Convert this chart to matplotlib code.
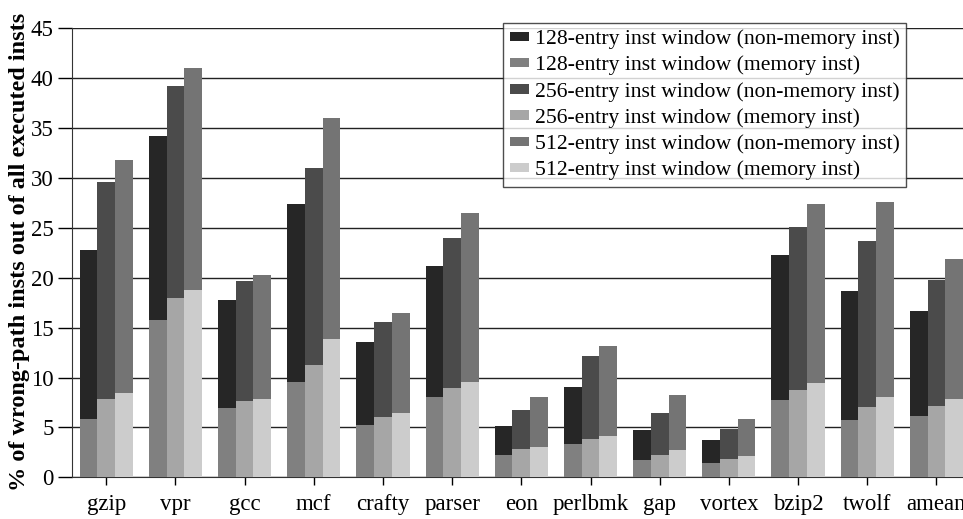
import matplotlib
matplotlib.use("Agg")
import matplotlib.pyplot as plt
import numpy as np

categories = ["gzip", "vpr", "gcc", "mcf", "crafty", "parser", "eon", "perlbmk",
              "gap", "vortex", "bzip2", "twolf", "amean"]

# total heights (non-memory + memory) and memory part, per window size
total_128 = [22.8, 34.2, 17.8, 27.4, 13.6, 21.2, 5.1, 9.1, 4.7, 3.7, 22.25, 18.7, 16.7]
mem_128   = [5.85, 15.8, 6.95, 9.6, 5.2, 8.0, 2.25, 3.3, 1.7, 1.4, 7.75, 5.75, 6.1]
total_256 = [29.6, 39.2, 19.7, 31.0, 15.6, 24.0, 6.75, 12.2, 6.4, 4.85, 25.05, 23.7, 19.8]
mem_256   = [7.8, 18.0, 7.6, 11.3, 6.05, 8.9, 2.8, 3.85, 2.25, 1.8, 8.7, 7.0, 7.15]
total_512 = [31.8, 41.0, 20.3, 36.0, 16.5, 26.5, 8.0, 13.2, 8.2, 5.8, 27.4, 27.55, 21.85]
mem_512   = [8.45, 18.75, 7.8, 13.9, 6.4, 9.6, 3.05, 4.15, 2.7, 2.15, 9.5, 8.05, 7.85]

windows = ["128", "256", "512"]
yticks = list(range(0, 46, 5))

colors_nonmem = ["#262626", "#4b4b4b", "#747474"]
colors_mem = ["#808080", "#a6a6a6", "#cccccc"]

plt.rcParams["font.family"] = ["Liberation Serif", "DejaVu Serif"]

fig = plt.figure(figsize=(9.63, 5.19), dpi=100)
ax = fig.add_axes([71.7 / 963, 41.7 / 519, (971 - 71.7) / 963, 449 / 519])

x = np.arange(len(categories))
w = 0.256
totals = [total_128, total_256, total_512]
mems = [mem_128, mem_256, mem_512]
handles = []
for i in range(3):
    xs = x + (i - 1) * w
    mem = np.array(mems[i])
    nonmem = np.array(totals[i]) - mem
    b_mem = ax.bar(xs, mem, width=w, color=colors_mem[i], zorder=3, linewidth=0)
    b_non = ax.bar(xs, nonmem, bottom=mem, width=w, color=colors_nonmem[i], zorder=3, linewidth=0)
    handles.append((b_non, f"{windows[i]}-entry inst window (non-memory inst)"))
    handles.append((b_mem, f"{windows[i]}-entry inst window (memory inst)"))

ax.set_xlim(-0.5, len(categories) - 0.5)
ax.set_ylim(0, 45)
ax.set_yticks(yticks)
ax.set_xticks(x)
ax.set_xticklabels(categories, fontsize=16.5)
ax.tick_params(axis="y", labelsize=16.5, length=10, width=1, direction="out", pad=3)
ax.tick_params(axis="x", length=6, width=1, direction="out", pad=6)
ax.yaxis.grid(True, color="#222222", linewidth=1.0, zorder=0)
ax.set_axisbelow(True)
for s in ["top", "right"]:
    ax.spines[s].set_visible(False)
ax.spines["left"].set_color("#333333")
ax.spines["bottom"].set_color("#333333")

fig.text(20 / 963, 1 - 252 / 519, "% of wrong-path insts out of all executed insts",
         rotation=90, ha="center", va="center", fontsize=17.5, fontweight="bold")

leg = fig.legend([h for h, _ in handles], [l for _, l in handles],
                 loc="upper left", bbox_to_anchor=(503 / 963, 1 - 23 / 519),
                 fontsize=15.6, frameon=True, fancybox=False, edgecolor="#222222",
                 handlelength=0.92, handleheight=0.3, handletextpad=0.25,
                 labelspacing=0.3, borderpad=0.3, borderaxespad=0)
leg.get_frame().set_linewidth(1.0)

fig.savefig("out.png", dpi=100)
